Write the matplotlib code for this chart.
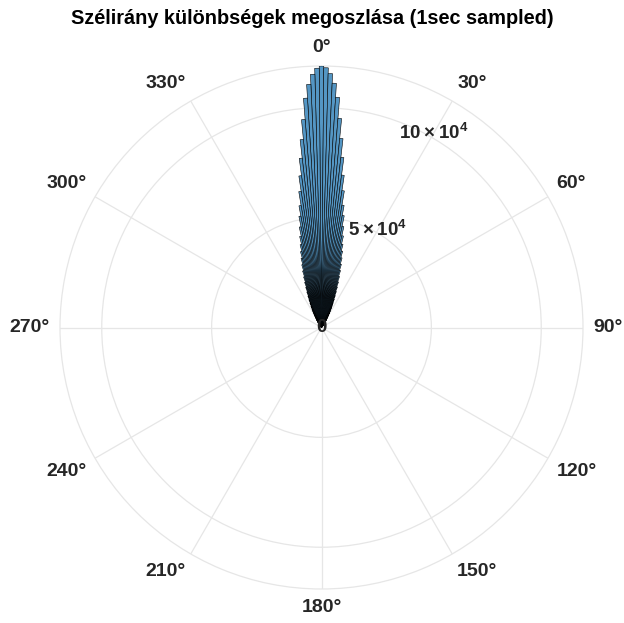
import numpy as np
import matplotlib
matplotlib.use('Agg')
import matplotlib.pyplot as plt

plt.rcParams['font.family'] = ['Liberation Sans', 'DejaVu Sans']
plt.rcParams['mathtext.fontset'] = 'custom'
plt.rcParams['mathtext.rm'] = 'Liberation Sans'
plt.rcParams['mathtext.bf'] = 'Liberation Sans:bold'

title = 'Szélirány különbségek megoszlása (1sec sampled)'

# 1 degree bins; counts
bin_width_deg = 1.0
# bins at 0, 1, 2, ... 38 degrees (clockwise side)
counts_right = [
    119000, 118200, 115600, 111300, 105000, 95500, 86500, 78000, 70000, 63000,
    56500, 51900, 47000, 42800, 39100, 36000, 33000, 30100, 27300, 24600,
    22100, 19800, 17700, 15800, 14100, 12500, 11100, 9800, 8600, 7500,
    6500, 5600, 4800, 4100, 3500, 3000, 2500, 2100, 1800,
]
# bins at -1, -2, ... -38 degrees (counter-clockwise side)
counts_left = [
    118000, 115300, 110800, 104600, 95000, 86000, 77600, 69700, 62700,
    56300, 51600, 46800, 42600, 38900, 35800, 32800, 29900, 27100, 24400,
    21900, 19600, 17500, 15600, 13900, 12300, 10900, 9600, 8400, 7300,
    6300, 5400, 4600, 4000, 3400, 2900, 2400, 2000, 1700,
]
theta_ticks = list(range(0, 360, 30))
theta_labels = [f'{d}°' for d in theta_ticks]
r_ticks = [0, 5e4, 10e4]
r_labels = ['0', r'$\mathbf{5\times10^4}$', r'$\mathbf{10\times10^4}$']

bin_deg = ([bin_width_deg * i for i in range(len(counts_right))] +
           [-bin_width_deg * (i + 1) for i in range(len(counts_left))])
counts = counts_right + counts_left

fig = plt.figure(figsize=(6.24, 6.23), dpi=100)
ax = fig.add_axes([60/624, 34/623, 523/624, 523/623], projection='polar')
ax.set_theta_zero_location('N')
ax.set_theta_direction(-1)
ax.set_axisbelow(True)

ax.bar(np.deg2rad(bin_deg), counts, width=np.deg2rad(bin_width_deg), bottom=0,
       align='center', color='#5496c4', edgecolor='black', linewidth=0.4,
       zorder=3)

rmax = max(counts)
ax.set_ylim(0, rmax)
ax.set_thetagrids(theta_ticks, labels=[''] * len(theta_ticks))
ax.set_rgrids(r_ticks[1:], labels=['', ''])
ax.grid(color='#e6e6e6', linewidth=0.9)
ax.spines['polar'].set_color('#e6e6e6')
ax.spines['polar'].set_linewidth(0.9)


def align_for(d):
    if d == 0:
        return 'center', 'bottom'
    if d == 180:
        return 'center', 'top'
    if d == 90:
        return 'left', 'center'
    if d == 270:
        return 'right', 'center'
    ha = 'left' if d < 180 else 'right'
    va = 'bottom' if (d < 90 or d > 270) else 'top'
    return ha, va


for d, lab in zip(theta_ticks, theta_labels):
    ha, va = align_for(d)
    ax.text(np.deg2rad(d), rmax * (1 + 10/261.5), lab, ha=ha, va=va,
            fontsize=14, fontweight='bold', color='#262626', clip_on=False)

for rv, lab in zip(r_ticks, r_labels):
    ax.text(np.deg2rad(30) if rv > 0 else 0, rv * (1.02 if rv > 0 else 0), lab,
            ha='center', va='center', fontsize=13.5, fontweight='bold',
            color='#262626', zorder=5)

fig.text(0.5, 1 - 18/623, title, ha='center', va='center', fontsize=14.3,
         fontweight='bold', color='black')

fig.savefig('out.png', dpi=100, facecolor='white')
